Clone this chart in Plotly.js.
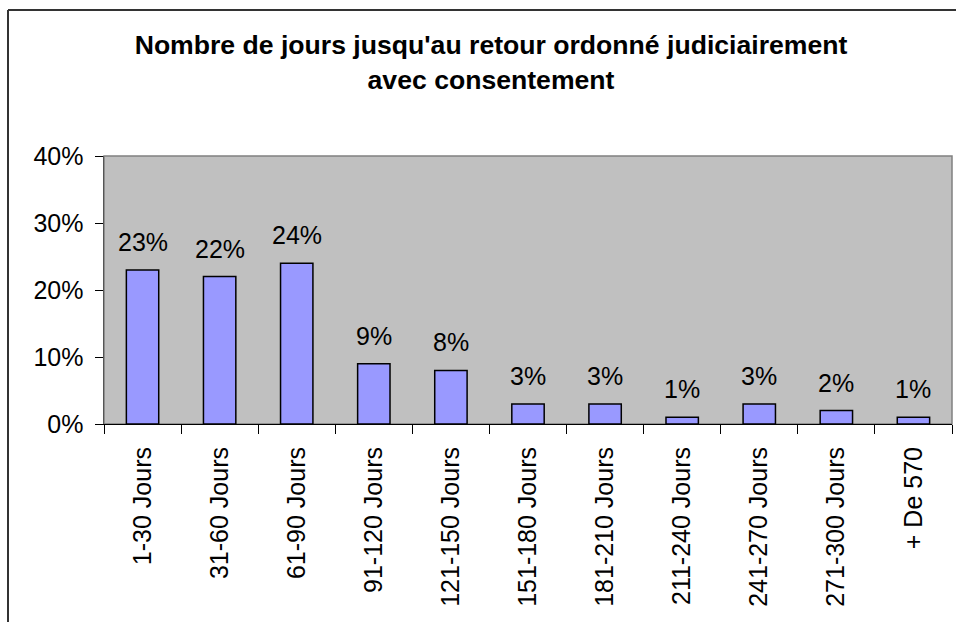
<!DOCTYPE html>
<html>
<head>
<meta charset="utf-8">
<script src="https://cdn.plot.ly/plotly-3.0.1.min.js"></script>
<style>html,body{margin:0;padding:0;background:#fff;}#chart{width:956px;height:622px;}</style>
</head>
<body>
<div id="chart"></div>
<script>
const categories = ["1-30 Jours","31-60 Jours","61-90 Jours","91-120 Jours","121-150 Jours","151-180 Jours","181-210 Jours","211-240 Jours","241-270 Jours","271-300 Jours","+ De 570"];
const values = [0.23,0.22,0.24,0.09,0.08,0.03,0.03,0.01,0.03,0.02,0.01];
const valueLabels = ["23%","22%","24%","9%","8%","3%","3%","1%","3%","2%","1%"];
const yTicks = [0,0.1,0.2,0.3,0.4];
const yTickLabels = ["0%","10%","20%","30%","40%"];
const titleText = "Nombre de jours jusqu'au retour ordonné judiciairement<br>avec consentement";

const FONT = "Arial, 'Liberation Sans', sans-serif";

const trace = {
  type: "bar",
  x: categories,
  y: values,
  width: 0.42,
  marker: {color: "#9999FF", line: {color: "#000000", width: 1.5}},
  hoverinfo: "none"
};

const annotations = categories.map((c, i) => ({
  x: c, y: values[i], xref: "x", yref: "y",
  text: valueLabels[i], showarrow: false,
  yanchor: "bottom", yshift: 12,
  font: {family: FONT, size: 25, color: "#000"}
}));

const L = 104, R = 952, T = 156, B = 424;
const pw = R - L, ph = B - T;
const px = v => (v - L) / pw;
const py = v => (B - v) / ph;

const layout = {
  width: 956, height: 622,
  margin: {l: L, r: 956 - R, t: T, b: 622 - B, pad: 0},
  paper_bgcolor: "#ffffff",
  plot_bgcolor: "#C0C0C0",
  showlegend: false,
  font: {family: FONT, size: 25, color: "#000"},
  title: {
    text: titleText,
    x: 491 / 956, xref: "container", xanchor: "center",
    y: 1 - 54 / 622, yref: "container", yanchor: "top",
    font: {family: FONT, size: 26.6, color: "#000", weight: "bold"}
  },
  xaxis: {
    type: "category",
    tickson: "boundaries",
    ticks: "outside", ticklen: 9, tickcolor: "#000", tickwidth: 1,
    tickangle: -90,
    ticklabelstandoff: 12,
    showline: true, linecolor: "#000", linewidth: 1,
    showgrid: false, zeroline: false,
    tickfont: {family: FONT, size: 25, color: "#000"},
    fixedrange: true
  },
  yaxis: {
    range: [0, 0.4],
    tickvals: yTicks, ticktext: yTickLabels,
    ticks: "outside", ticklen: 8, tickcolor: "#000", tickwidth: 1,
    ticklabelstandoff: 6,
    showline: true, linecolor: "#555", linewidth: 1.5,
    showgrid: false, zeroline: false,
    tickfont: {family: FONT, size: 25, color: "#000"},
    fixedrange: true
  },
  shapes: [
    {type: "rect", xref: "paper", yref: "paper", x0: 0, x1: 1, y0: 0, y1: 1,
     line: {color: "#808080", width: 1.5}, fillcolor: "rgba(0,0,0,0)", layer: "below"},
    {type: "line", xref: "paper", yref: "paper",
     x0: px(8), x1: px(8), y0: py(640), y1: py(10),
     line: {color: "#333333", width: 2}},
    {type: "line", xref: "paper", yref: "paper",
     x0: px(8), x1: px(980), y0: py(10), y1: py(10),
     line: {color: "#333333", width: 2}}
  ],
  annotations: annotations
};

Plotly.newPlot("chart", [trace], layout, {displayModeBar: false, staticPlot: true});
</script>
</body>
</html>
